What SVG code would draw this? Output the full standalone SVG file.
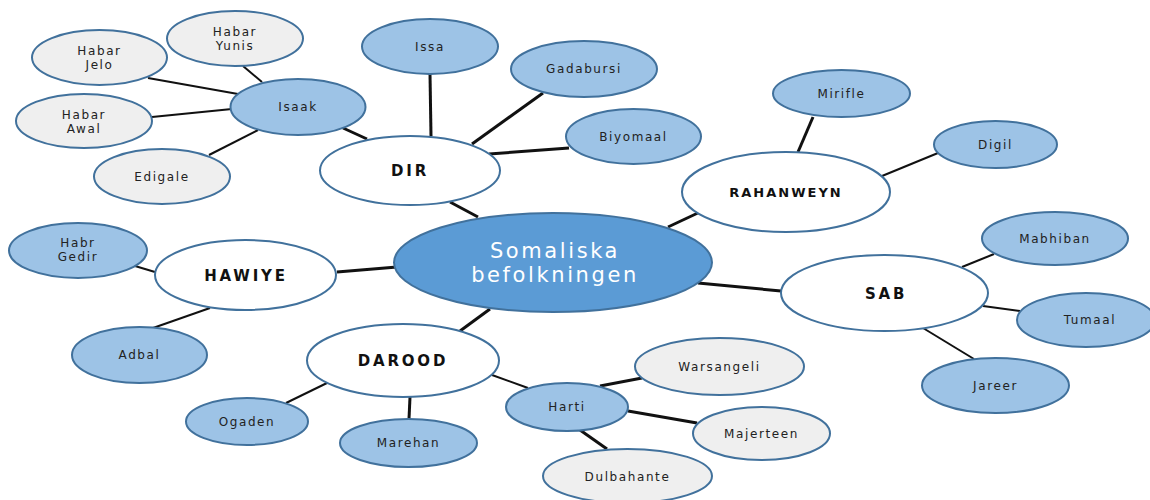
<svg xmlns="http://www.w3.org/2000/svg" width="1150" height="500" viewBox="0 0 1150 500">
<style>
.bl{fill:#9DC3E6;stroke:#41719C;stroke-width:2}
.gr{fill:#EFEFEF;stroke:#41719C;stroke-width:2}
.wh{fill:#FFFFFF;stroke:#41719C;stroke-width:2}
.ce{fill:#5B9BD5;stroke:#41719C;stroke-width:2}
.t{font-family:"DejaVu Sans",sans-serif;font-size:12px;letter-spacing:1.6px;fill:#222;text-anchor:middle}
.b{font-family:"DejaVu Sans",sans-serif;font-size:15px;font-weight:bold;letter-spacing:2.8px;fill:#111;text-anchor:middle}
.c{font-family:"DejaVu Sans",sans-serif;font-size:21px;letter-spacing:2.6px;fill:#FFFFFF;text-anchor:middle}
.l1{stroke:#111;stroke-width:2;fill:none}
.l2{stroke:#111;stroke-width:3;fill:none}
</style>
<g id="connectors">
<line class="l1" x1="148" y1="78" x2="238" y2="94"/>
<line class="l1" x1="243" y1="66" x2="262" y2="82"/>
<line class="l1" x1="152" y1="117" x2="232" y2="109"/>
<line class="l1" x1="209" y1="155" x2="258" y2="130"/>
<line class="l2" x1="343" y1="128" x2="367" y2="139"/>
<line class="l2" x1="430" y1="74" x2="431" y2="136"/>
<line class="l2" x1="543" y1="93" x2="472" y2="144"/>
<line class="l2" x1="569" y1="148" x2="489" y2="154"/>
<line class="l2" x1="450" y1="202" x2="478" y2="217"/>
<line class="l2" x1="668" y1="227" x2="700" y2="212"/>
<line class="l2" x1="813" y1="117" x2="798" y2="152"/>
<line class="l1" x1="938" y1="153" x2="882" y2="176"/>
<line class="l2" x1="698" y1="283" x2="781" y2="291"/>
<line class="l1" x1="962" y1="267" x2="994" y2="254"/>
<line class="l1" x1="983" y1="306" x2="1020" y2="311"/>
<line class="l1" x1="923" y1="328" x2="974" y2="359"/>
<line class="l1" x1="135" y1="266" x2="155" y2="272"/>
<line class="l1" x1="153" y1="328" x2="210" y2="308"/>
<line class="l2" x1="337" y1="272" x2="397" y2="267"/>
<line class="l2" x1="460" y1="331" x2="490" y2="309"/>
<line class="l1" x1="327" y1="383" x2="286" y2="403"/>
<line class="l2" x1="410" y1="397" x2="409" y2="419"/>
<line class="l1" x1="492" y1="375" x2="528" y2="388"/>
<line class="l2" x1="600" y1="386" x2="642" y2="378"/>
<line class="l2" x1="628" y1="411" x2="697" y2="423"/>
<line class="l2" x1="580" y1="430" x2="607" y2="449"/>
</g>
<g id="habar-yunis"><ellipse class="gr" cx="235" cy="38.5" rx="68" ry="27.5"/><text class="t" x="235" y="36">Habar</text><text class="t" x="235" y="50">Yunis</text></g>
<g id="habar-jelo"><ellipse class="gr" cx="99.5" cy="57.5" rx="67.5" ry="27.5"/><text class="t" x="99.5" y="55">Habar</text><text class="t" x="99.5" y="69">Jelo</text></g>
<g id="isaak"><ellipse class="bl" cx="298" cy="107" rx="67.5" ry="28"/><text class="t" x="298" y="111">Isaak</text></g>
<g id="habar-awal"><ellipse class="gr" cx="84" cy="121" rx="68" ry="27"/><text class="t" x="84" y="119">Habar</text><text class="t" x="84" y="133">Awal</text></g>
<g id="edigale"><ellipse class="gr" cx="162" cy="176.5" rx="68" ry="27.5"/><text class="t" x="162" y="181">Edigale</text></g>
<g id="issa"><ellipse class="bl" cx="430" cy="46.5" rx="68" ry="27.5"/><text class="t" x="430" y="51">Issa</text></g>
<g id="gadabursi"><ellipse class="bl" cx="584" cy="69" rx="73" ry="28"/><text class="t" x="584" y="73">Gadabursi</text></g>
<g id="biyomaal"><ellipse class="bl" cx="633.5" cy="136.5" rx="67.5" ry="27.5"/><text class="t" x="633.5" y="141">Biyomaal</text></g>
<g id="dir"><ellipse class="wh" cx="410" cy="170.5" rx="90" ry="34.5"/><text class="b" x="410" y="176">DIR</text></g>
<g id="mirifle"><ellipse class="bl" cx="841.5" cy="93.5" rx="68.5" ry="23.5"/><text class="t" x="841.5" y="98">Mirifle</text></g>
<g id="digil"><ellipse class="bl" cx="995.5" cy="144.5" rx="61.5" ry="23.5"/><text class="t" x="995.5" y="149">Digil</text></g>
<g id="rahanweyn"><ellipse class="wh" cx="786" cy="192" rx="104" ry="40"/><text class="b" x="786" y="197" style="font-size:13px;letter-spacing:2px">RAHANWEYN</text></g>
<g id="center"><ellipse class="ce" cx="553" cy="262.5" rx="159" ry="49.5"/><text class="c" x="555" y="258">Somaliska</text><text class="c" x="555" y="282">befolkningen</text></g>
<g id="mabhiban"><ellipse class="bl" cx="1055" cy="238.5" rx="73" ry="26.5"/><text class="t" x="1055" y="243">Mabhiban</text></g>
<g id="sab"><ellipse class="wh" cx="884.5" cy="293" rx="103.5" ry="38"/><text class="b" x="886" y="299">SAB</text></g>
<g id="tumaal"><ellipse class="bl" cx="1086" cy="320" rx="69" ry="27"/><text class="t" x="1090" y="324">Tumaal</text></g>
<g id="jareer"><ellipse class="bl" cx="995.5" cy="385.5" rx="73.5" ry="27.5"/><text class="t" x="995.5" y="390">Jareer</text></g>
<g id="habr-gedir"><ellipse class="bl" cx="78" cy="250.5" rx="69" ry="27.5"/><text class="t" x="78" y="247">Habr</text><text class="t" x="78" y="261">Gedir</text></g>
<g id="hawiye"><ellipse class="wh" cx="245.5" cy="275" rx="90.5" ry="35"/><text class="b" x="246" y="281">HAWIYE</text></g>
<g id="adbal"><ellipse class="bl" cx="139.5" cy="355" rx="67.5" ry="28"/><text class="t" x="139.5" y="359">Adbal</text></g>
<g id="darood"><ellipse class="wh" cx="403" cy="360.5" rx="96" ry="36.5"/><text class="b" x="403" y="366">DAROOD</text></g>
<g id="ogaden"><ellipse class="bl" cx="247" cy="421.5" rx="61" ry="23.5"/><text class="t" x="247" y="426">Ogaden</text></g>
<g id="marehan"><ellipse class="bl" cx="408.5" cy="443" rx="68.5" ry="24"/><text class="t" x="408.5" y="447">Marehan</text></g>
<g id="harti"><ellipse class="bl" cx="567" cy="407" rx="61" ry="24"/><text class="t" x="567" y="411">Harti</text></g>
<g id="warsangeli"><ellipse class="gr" cx="719.5" cy="366.5" rx="84.5" ry="28.5"/><text class="t" x="719.5" y="371">Warsangeli</text></g>
<g id="majerteen"><ellipse class="gr" cx="761.5" cy="433.5" rx="68.5" ry="26.5"/><text class="t" x="761.5" y="438">Majerteen</text></g>
<g id="dulbahante"><ellipse class="gr" cx="627.5" cy="476" rx="84.5" ry="27"/><text class="t" x="627.5" y="481">Dulbahante</text></g>
</svg>
